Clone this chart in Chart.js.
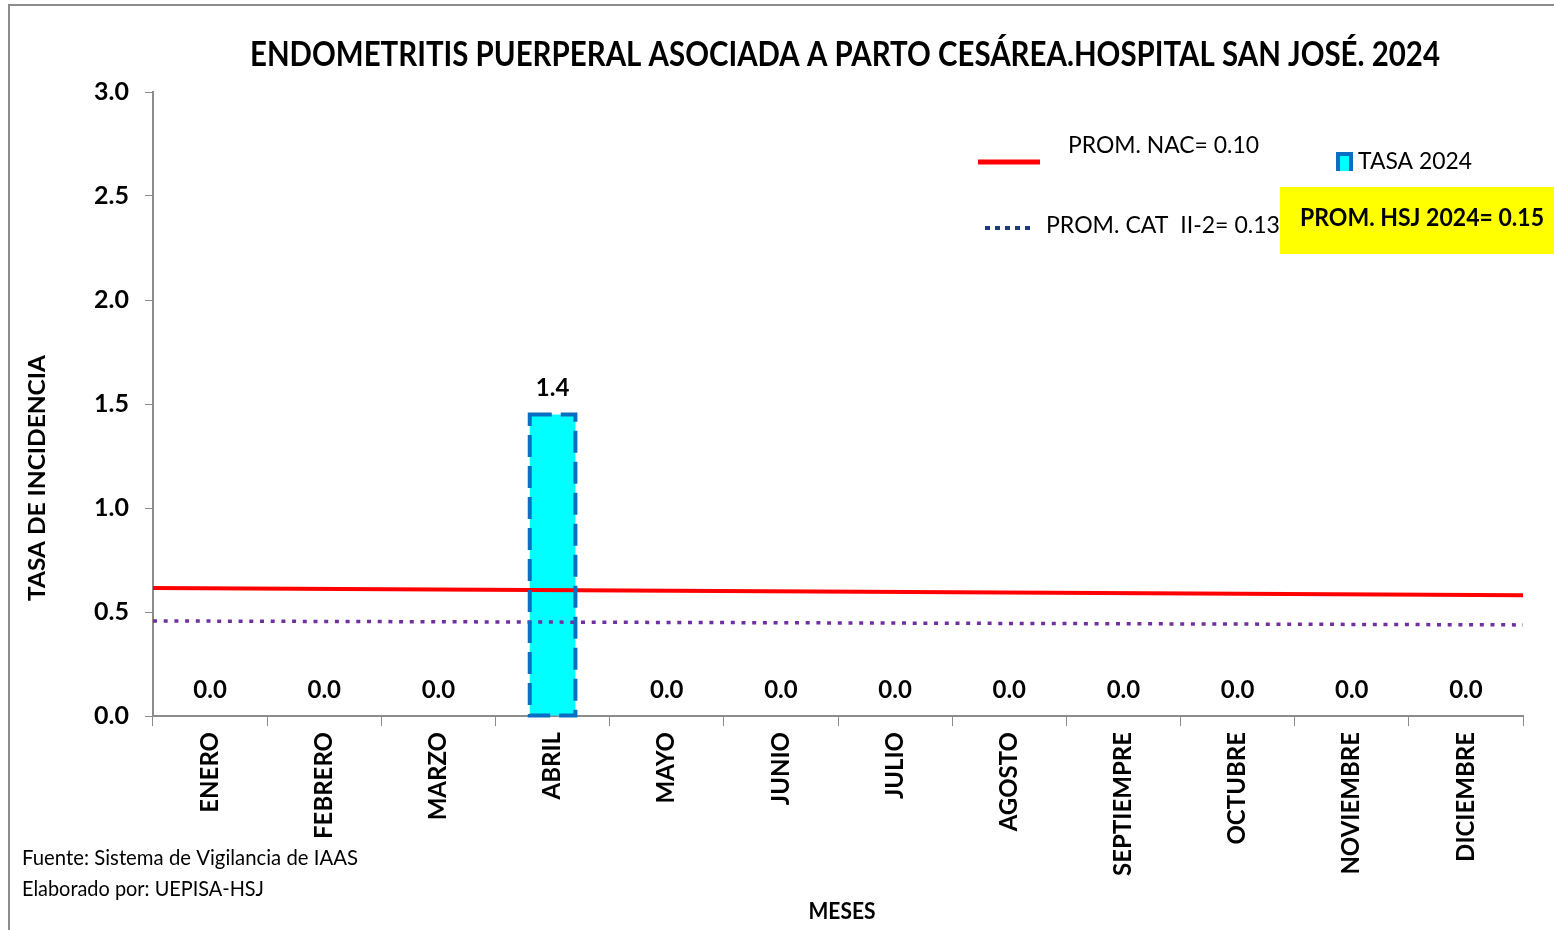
<!DOCTYPE html>
<html>
<head>
<meta charset="utf-8">
<script src="https://cdn.jsdelivr.net/npm/chart.js@4/dist/chart.umd.min.js"></script>
<style>
  html, body { margin: 0; padding: 0; background: #fff; }
  #wrap { position: relative; width: 1554px; height: 930px; overflow: hidden; }
  #frame { position: absolute; left: 8px; top: 4px; right: -4px; bottom: -4px;
           border-left: 2px solid #8c8c8c; border-top: 2px solid #8c8c8c; }
  canvas { position: absolute; left: 0; top: 0; }
</style>
</head>
<body>
<div id="wrap">
  <div id="frame"></div>
  <canvas id="chart" width="1554" height="930"></canvas>
</div>
<script>
const meses = ['ENERO', 'FEBRERO', 'MARZO', 'ABRIL', 'MAYO', 'JUNIO', 'JULIO',
  'AGOSTO', 'SEPTIEMPRE', 'OCTUBRE', 'NOVIEMBRE', 'DICIEMBRE'];
const tasa2024 = [0, 0, 0, 1.45, 0, 0, 0, 0, 0, 0, 0, 0];

// reference lines as drawn (start / end of the axis)
const lineEnds = [0, 1];
const promNac = [0.615, 0.58];
const promCat = [0.457, 0.438];

const yTicks = [0, 0.5, 1.0, 1.5, 2.0, 2.5, 3.0];

// Lato is the closest installed face to Calibri
const FONT = "Lato, 'Open Sans', sans-serif";
const AXIS = '#8c8c8c';

// draw text squeezed/stretched to a given width
function fitText(ctx, text, x, y, width, font, align) {
  ctx.save();
  ctx.font = font;
  const w = ctx.measureText(text).width;
  const sx = width / w;
  ctx.textBaseline = 'middle';
  ctx.textAlign = 'left';
  let x0 = x;
  if (align === 'center') x0 = x - width / 2;
  ctx.translate(x0, y);
  ctx.scale(sx, 1);
  ctx.fillText(text, 0, 0);
  ctx.restore();
}

const extras = {
  id: 'extras',
  afterDatasetsDraw(chart) {
    const ctx = chart.ctx;
    const meta = chart.getDatasetMeta(0);
    meta.data.forEach((bar, i) => {
      const v = tasa2024[i];
      ctx.save();
      if (v > 0) {
        const w = bar.width;
        ctx.strokeStyle = '#0a6fc2';
        ctx.lineWidth = 4;
        ctx.setLineDash([22, 9]);
        ctx.strokeRect(bar.x - w / 2, bar.y, w, bar.base - bar.y);
      }
      ctx.fillStyle = '#000';
      ctx.font = 'bold 24px ' + FONT;
      ctx.textAlign = 'center';
      ctx.textBaseline = 'middle';
      const lbl = (Math.floor(v * 10 + 1e-9) / 10).toFixed(1);
      ctx.fillText(lbl, bar.x, bar.y - 26);
      ctx.restore();
    });
  },
  afterDraw(chart) {
    const ctx = chart.ctx;
    ctx.save();
    ctx.fillStyle = '#000';
    // title
    fitText(ctx, 'ENDOMETRITIS PUERPERAL ASOCIADA A PARTO CESÁREA.HOSPITAL SAN JOSÉ. 2024',
      845, 55, 1190, 'bold 34px ' + FONT, 'center');

    // axis titles
    ctx.save();
    ctx.translate(38, 478);
    ctx.rotate(-Math.PI / 2);
    fitText(ctx, 'TASA DE INCIDENCIA', 0, 0, 246, 'bold 23px ' + FONT, 'center');
    ctx.restore();
    fitText(ctx, 'MESES', 842, 912, 67, 'bold 23px ' + FONT, 'center');

    // footnotes
    fitText(ctx, 'Fuente: Sistema de Vigilancia de IAAS', 22, 858, 336, '21px ' + FONT);
    fitText(ctx, 'Elaborado por: UEPISA-HSJ', 22, 889, 242, '21px ' + FONT);

    // legend: PROM. NAC
    ctx.strokeStyle = '#ff0000';
    ctx.lineWidth = 5;
    ctx.beginPath(); ctx.moveTo(978, 162); ctx.lineTo(1040, 162); ctx.stroke();
    fitText(ctx, 'PROM. NAC= 0.10', 1068, 145, 191, '24px ' + FONT);

    // legend: PROM. CAT
    ctx.strokeStyle = '#1f3c78';
    ctx.lineWidth = 4;
    ctx.setLineDash([5, 5]);
    ctx.beginPath(); ctx.moveTo(985, 228); ctx.lineTo(1035, 228); ctx.stroke();
    ctx.setLineDash([]);
    fitText(ctx, 'PROM. CAT  II-2= 0.13', 1046, 225, 234, '24px ' + FONT);

    // legend: TASA 2024
    ctx.fillStyle = '#0a6fc2';
    ctx.fillRect(1336, 152, 17, 19);
    ctx.fillStyle = '#00ffff';
    ctx.fillRect(1340, 156, 9, 15);
    ctx.fillStyle = '#000';
    fitText(ctx, 'TASA 2024', 1358, 161, 114, '24px ' + FONT);

    // yellow box
    ctx.fillStyle = '#ffff00';
    ctx.fillRect(1280, 187, 274, 67);
    ctx.fillStyle = '#000';
    fitText(ctx, 'PROM. HSJ 2024= 0.15', 1300, 218, 244, 'bold 24px ' + FONT);
    ctx.restore();
  }
};

new Chart(document.getElementById('chart'), {
  data: {
    labels: meses,
    datasets: [
      {
        type: 'bar',
        label: 'TASA 2024',
        data: tasa2024,
        backgroundColor: '#00ffff',
        borderWidth: 0,
        barPercentage: 0.4,
        categoryPercentage: 1,
        grouped: false,
        order: 2
      },
      {
        type: 'line',
        label: 'PROM. NAC= 0.10',
        xAxisID: 'xl',
        data: lineEnds.map((x, i) => ({ x: x, y: promNac[i] })),
        borderColor: '#ff0000',
        borderWidth: 4,
        pointRadius: 0,
        tension: 0,
        order: 1
      },
      {
        type: 'line',
        label: 'PROM. CAT  II-2= 0.13',
        xAxisID: 'xl',
        data: lineEnds.map((x, i) => ({ x: x, y: promCat[i] })),
        borderColor: '#7030a0',
        borderWidth: 3.5,
        borderDash: [4, 6.7],
        pointRadius: 0,
        tension: 0,
        order: 1
      }
    ]
  },
  options: {
    responsive: false,
    animation: false,
    layout: { padding: { left: 93, right: 31, top: 92, bottom: 44 } },
    plugins: {
      legend: { display: false },
      tooltip: { enabled: false },
      title: { display: false }
    },
    scales: {
      x: {
        type: 'category',
        border: { color: AXIS, width: 2 },
        grid: { drawOnChartArea: false, color: AXIS, tickLength: 10, offset: true },
        ticks: {
          color: '#000',
          font: { family: FONT, size: 24, weight: 'bold' },
          minRotation: 90,
          maxRotation: 90,
          padding: 6,
          autoSkip: false
        },
        afterFit(scale) { scale.height = 170; }
      },
      xl: {
        type: 'linear',
        display: false,
        min: 0,
        max: 1
      },
      y: {
        min: 0,
        max: 3,
        border: { color: AXIS, width: 2 },
        grid: { drawOnChartArea: false, color: AXIS, tickLength: 8 },
        afterBuildTicks(scale) { scale.ticks = yTicks.map(v => ({ value: v })); },
        ticks: {
          color: '#000',
          font: { family: FONT, size: 25, weight: 'bold' },
          padding: 16,
          callback: v => v.toFixed(1)
        },
        afterFit(scale) { scale.width = 60; }
      }
    }
  },
  plugins: [extras]
});
</script>
</body>
</html>
